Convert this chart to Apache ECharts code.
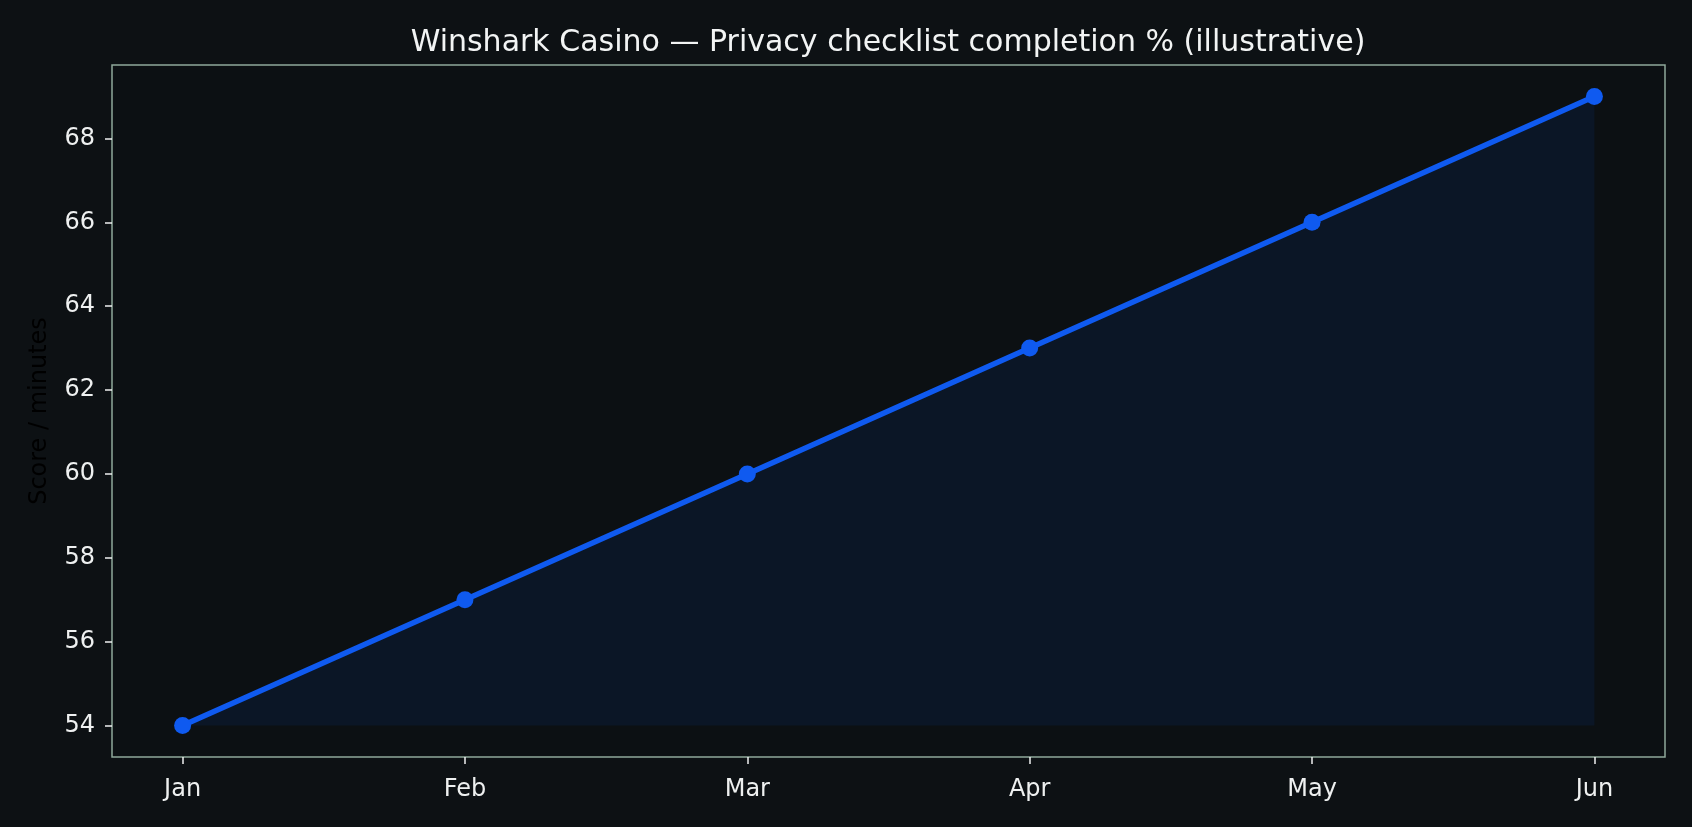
<!DOCTYPE html>
<html>
<head>
<meta charset="utf-8">
<script src="https://cdn.jsdelivr.net/npm/echarts@6/dist/echarts.min.js"></script>
<style>
html,body{margin:0;padding:0;background:#0d1114;}
#chart{width:1692px;height:827px;}
</style>
</head>
<body>
<div id="chart"></div>
<script>
const months = ['Jan', 'Feb', 'Mar', 'Apr', 'May', 'Jun'];
const completion = [54, 57, 60, 63, 66, 69];
const yTickMin = 54;
const yTickMax = 68;
const yTickStep = 2;
const titleText = 'Winshark Casino \u2014 Privacy checklist completion % (illustrative)';
const yName = 'Score / minutes';

const seriesData = completion.map((v, i) => [i, v]);
const xTicks = months.map((m, i) => i);

// axis ranges with a 5% margin like the reference
const yMin = 53.25, yMax = 69.75;
const H = 827;
const gTop = 65, gBottom = 70, gLeft = 112, gRight = 27;
const plotH = H - gTop - gBottom;
const pxPerUnit = plotH / (yMax - yMin);
const tickTop = gTop + (yMax - yTickMax) * pxPerUnit;
const tickBottom = gBottom + (yTickMin - yMin) * pxPerUnit;

const font = 'DejaVu Sans';
const fg = '#eef0f0';
const chart = echarts.init(document.getElementById('chart'), null, {renderer: 'canvas'});
chart.setOption({
  animation: false,
  backgroundColor: '#0d1114',
  title: {
    text: titleText,
    left: 888,
    top: 28,
    textAlign: 'center',
    padding: 0,
    textStyle: {color: '#f2f4f4', fontFamily: font, fontSize: 30, fontWeight: 'normal'}
  },
  grid: [{
    left: gLeft, right: gRight, top: gTop, bottom: gBottom,
    show: true, backgroundColor: '#0c1013', borderColor: '#8fa89a', borderWidth: 1.5
  }, {
    left: gLeft, right: gRight, top: tickTop, bottom: tickBottom, show: false
  }],
  xAxis: [{
    type: 'value',
    gridIndex: 0,
    min: -0.25, max: 5.25,
    splitLine: {show: false},
    axisLine: {show: false},
    axisTick: {show: true, customValues: xTicks, length: 7, lineStyle: {color: fg, width: 1.5}},
    axisLabel: {
      customValues: xTicks,
      formatter: v => months[Math.round(v)],
      color: fg, fontFamily: font, fontSize: 24, margin: 21
    }
  }, {
    type: 'value', gridIndex: 1, min: 0, max: 1, show: false
  }],
  yAxis: [{
    type: 'value',
    gridIndex: 0,
    min: yMin, max: yMax,
    name: yName,
    nameLocation: 'middle',
    nameGap: 60,
    nameTextStyle: {color: '#000000', fontFamily: font, fontSize: 24},
    splitLine: {show: false},
    axisLine: {show: false},
    axisTick: {show: false},
    axisLabel: {show: false}
  }, {
    type: 'value',
    gridIndex: 1,
    min: yTickMin, max: yTickMax, interval: yTickStep,
    splitLine: {show: false},
    axisLine: {show: false},
    axisTick: {show: true, length: 7, lineStyle: {color: fg, width: 1.5}},
    axisLabel: {color: fg, fontFamily: font, fontSize: 24, margin: 17}
  }],
  series: [{
    type: 'line',
    xAxisIndex: 0,
    yAxisIndex: 0,
    data: seriesData,
    symbol: 'circle',
    symbolSize: 17,
    color: '#0f5af0',
    lineStyle: {color: '#0f5af0', width: 5.5},
    itemStyle: {color: '#0f5af0'},
    areaStyle: {color: 'rgba(15,90,240,0.12)', origin: 54}
  }]
});
</script>
</body>
</html>
